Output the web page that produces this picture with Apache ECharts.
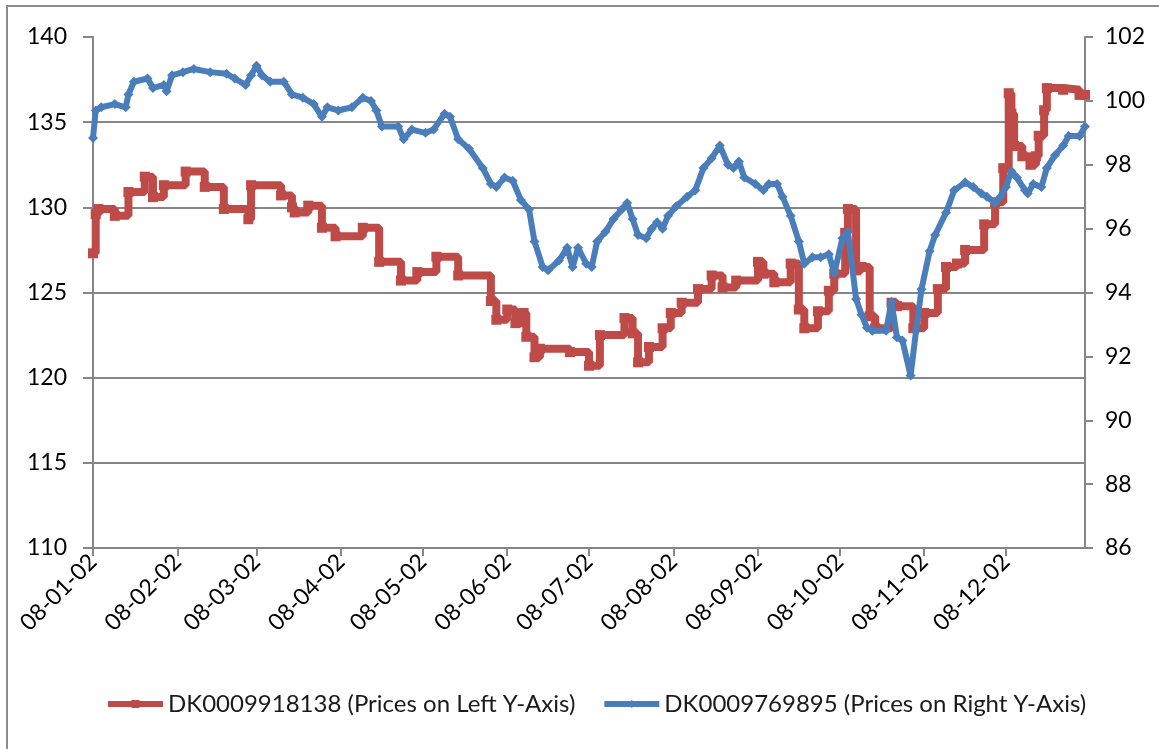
<!DOCTYPE html>
<html>
<head>
<meta charset="utf-8">
<title>DK0009918138 vs DK0009769895</title>
<script src="https://cdn.jsdelivr.net/npm/echarts@6/dist/echarts.min.js"></script>
<style>
  html, body { margin: 0; padding: 0; background: #fff; }
  #chart { width: 1159px; height: 749px; }
</style>
</head>
<body>
<div id="chart"></div>
<script>
  // 2008 prices; dates are yy-mm-dd
  const redDates = [
    '08-01-02', '08-01-03', '08-01-04', '08-01-10', '08-01-15', '08-01-21', '08-01-24', '08-01-28',
    '08-02-05', '08-02-12', '08-02-19', '08-02-28', '08-02-29', '08-03-11', '08-03-15', '08-03-16',
    '08-03-21', '08-03-26', '08-03-31', '08-04-10', '08-04-16', '08-04-24', '08-04-30', '08-05-07',
    '08-05-15', '08-05-27', '08-05-29', '08-06-02', '08-06-05', '08-06-08', '08-06-09', '08-06-12',
    '08-06-14', '08-06-25', '08-07-02', '08-07-06', '08-07-15', '08-07-18', '08-07-20', '08-07-24',
    '08-07-29', '08-08-01', '08-08-05', '08-08-11', '08-08-16', '08-08-20', '08-08-25', '08-09-02',
    '08-09-04', '08-09-08', '08-09-14', '08-09-17', '08-09-19', '08-09-24', '08-09-28', '08-09-30',
    '08-10-04', '08-10-05', '08-10-08', '08-10-10', '08-10-13', '08-10-15', '08-10-21', '08-10-23',
    '08-10-29', '08-11-02', '08-11-07', '08-11-10', '08-11-14', '08-11-17', '08-11-24', '08-11-28',
    '08-12-01', '08-12-03', '08-12-04', '08-12-05', '08-12-08', '08-12-11', '08-12-13', '08-12-14',
    '08-12-16', '08-12-17', '08-12-23', '08-12-29', '08-12-31'
  ];
  const redPrices = [
    127.3, 129.6, 129.9, 129.5, 130.9, 131.8, 130.6, 131.3,
    132.1, 131.2, 129.9, 129.3, 131.3, 130.7, 130.0, 129.7,
    130.1, 128.8, 128.3, 128.8, 126.8, 125.7, 126.2, 127.1,
    126.0, 124.5, 123.4, 124.0, 123.2, 123.8, 122.4, 121.2,
    121.7, 121.5, 120.7, 122.5, 123.5, 122.6, 120.9, 121.8,
    122.9, 123.8, 124.4, 125.2, 126.0, 125.3, 125.7, 126.8,
    126.1, 125.6, 126.7, 124.0, 122.9, 123.9, 125.1, 126.1,
    128.5, 129.9, 126.3, 126.5, 123.6, 122.9, 124.4, 124.2,
    122.9, 123.8, 125.2, 126.5, 126.7, 127.5, 129.0, 130.3,
    132.3, 136.7, 135.5, 133.6, 133.0, 132.5, 133.0, 134.2,
    135.7, 137.0, 136.9, 136.6, 136.6
  ];

  const blueDates = [
    '08-01-02', '08-01-03', '08-01-05', '08-01-10', '08-01-14', '08-01-15', '08-01-17', '08-01-22',
    '08-01-24', '08-01-28', '08-01-29', '08-01-31', '08-02-04', '08-02-08', '08-02-14', '08-02-20',
    '08-02-23', '08-02-27', '08-02-29', '08-03-02', '08-03-04', '08-03-07', '08-03-12', '08-03-15',
    '08-03-19', '08-03-23', '08-03-26', '08-03-28', '08-04-01', '08-04-06', '08-04-10', '08-04-13',
    '08-04-15', '08-04-17', '08-04-23', '08-04-25', '08-04-28', '08-05-03', '08-05-06', '08-05-10',
    '08-05-12', '08-05-15', '08-05-19', '08-05-24', '08-05-27', '08-05-29', '08-06-01', '08-06-04',
    '08-06-07', '08-06-10', '08-06-12', '08-06-15', '08-06-17', '08-06-21', '08-06-24', '08-06-26',
    '08-06-28', '08-07-01', '08-07-03', '08-07-05', '08-07-08', '08-07-11', '08-07-14', '08-07-16',
    '08-07-18', '08-07-20', '08-07-23', '08-07-25', '08-07-27', '08-07-29', '08-07-31', '08-08-03',
    '08-08-07', '08-08-10', '08-08-13', '08-08-16', '08-08-19', '08-08-22', '08-08-24', '08-08-26',
    '08-08-28', '08-09-01', '08-09-04', '08-09-06', '08-09-09', '08-09-11', '08-09-14', '08-09-17',
    '08-09-19', '08-09-22', '08-09-25', '08-09-28', '08-09-30', '08-10-03', '08-10-05', '08-10-08',
    '08-10-10', '08-10-12', '08-10-14', '08-10-19', '08-10-21', '08-10-23', '08-10-25', '08-10-28',
    '08-10-30', '08-11-01', '08-11-04', '08-11-06', '08-11-10', '08-11-13', '08-11-17', '08-11-20',
    '08-11-23', '08-11-25', '08-11-28', '08-11-30', '08-12-02', '08-12-04', '08-12-06', '08-12-09',
    '08-12-10', '08-12-12', '08-12-15', '08-12-17', '08-12-20', '08-12-23', '08-12-25', '08-12-29',
    '08-12-31'
  ];
  const bluePrices = [
    98.84, 99.7, 99.8, 99.9, 99.8, 100.2, 100.6, 100.7,
    100.4, 100.5, 100.3, 100.8, 100.9, 101.0, 100.9, 100.85,
    100.7, 100.5, 100.8, 101.1, 100.8, 100.6, 100.6, 100.2,
    100.1, 99.9, 99.5, 99.8, 99.7, 99.8, 100.1, 100.0,
    99.7, 99.2, 99.2, 98.8, 99.1, 99.0, 99.1, 99.6,
    99.5, 98.8, 98.5, 97.9, 97.4, 97.3, 97.6, 97.5,
    96.9, 96.6, 95.6, 94.8, 94.7, 95.0, 95.4, 94.8,
    95.4, 94.9, 94.8, 95.6, 95.9, 96.3, 96.6, 96.8,
    96.3, 95.8, 95.7, 96.0, 96.2, 96.0, 96.4, 96.7,
    97.0, 97.2, 97.9, 98.2, 98.6, 98.0, 97.9, 98.1,
    97.6, 97.4, 97.2, 97.4, 97.4, 97.0, 96.4, 95.6,
    94.9, 95.1, 95.1, 95.2, 94.6, 95.7, 95.9, 93.8,
    93.3, 92.9, 92.8, 92.8, 93.7, 92.6, 92.5, 91.4,
    92.8, 94.1, 95.3, 95.8, 96.5, 97.2, 97.45, 97.3,
    97.1, 97.0, 96.8, 97.0, 97.3, 97.8, 97.6, 97.2,
    97.1, 97.4, 97.3, 97.9, 98.3, 98.6, 98.9, 98.9,
    99.2
  ];

  const redName = 'DK0009918138 (Prices on Left Y-Axis)';
  const blueName = 'DK0009769895 (Prices on Right Y-Axis)';

  // every calendar day of the axis, 08-01-02 .. 08-12-31
  const days = [];
  for (let t = Date.UTC(2008, 0, 2); t <= Date.UTC(2008, 11, 31); t += 86400000) {
    const d = new Date(t);
    const p = (n) => String(n).padStart(2, '0');
    days.push(p(d.getUTCFullYear() % 100) + '-' + p(d.getUTCMonth() + 1) + '-' + p(d.getUTCDate()));
  }
  const isTick = (i, v) => v.slice(6) === '02';

  const font = 'Lato, "Open Sans", sans-serif';
  const axisGray = '#868686';

  const chart = echarts.init(document.getElementById('chart'), null, { renderer: 'canvas' });
  chart.setOption({
    animation: false,
    backgroundColor: '#fff',
    textStyle: { fontFamily: font },
    graphic: [{
      type: 'rect',
      shape: { x: 7, y: 6, width: 1200, height: 800 },
      style: { fill: 'none', stroke: '#8c8c8c', lineWidth: 2 },
      silent: true
    }],
    grid: { left: 93, right: 74, top: 37, bottom: 201 },
    legend: {
      bottom: 28,
      left: 100,
      itemWidth: 55,
      itemHeight: 10,
      itemGap: 26,
      lineStyle: { width: 6 },
      textStyle: { fontSize: 24, color: '#1a1a1a', fontFamily: font },
      data: [redName, blueName]
    },
    xAxis: {
      type: 'category',
      data: days,
      boundaryGap: false,
      axisLine: { lineStyle: { color: axisGray, width: 2 } },
      axisTick: { interval: isTick, length: 8, lineStyle: { color: axisGray, width: 2 } },
      axisLabel: {
        interval: isTick,
        rotate: 45,
        margin: 10,
        fontSize: 23,
        color: '#000',
        fontFamily: font
      },
      splitLine: { show: false }
    },
    yAxis: [{
      type: 'value',
      min: 110,
      max: 140,
      interval: 5,
      position: 'left',
      axisLine: { show: true, lineStyle: { color: axisGray, width: 2 } },
      axisTick: { show: true, inside: false, length: 10, lineStyle: { color: axisGray, width: 2 } },
      axisLabel: { fontSize: 23, color: '#000', margin: 26, fontFamily: font },
      splitLine: { show: true, showMaxLine: false, lineStyle: { color: axisGray, width: 2 } }
    }, {
      type: 'value',
      min: 86,
      max: 102,
      interval: 2,
      position: 'right',
      axisLine: { show: true, lineStyle: { color: axisGray, width: 2 } },
      axisTick: { show: true, inside: false, length: 8, lineStyle: { color: axisGray, width: 2 } },
      axisLabel: { fontSize: 23, color: '#000', margin: 20, fontFamily: font },
      splitLine: { show: false }
    }],
    series: [{
      name: redName,
      type: 'line',
      yAxisIndex: 0,
      step: 'end',
      data: redDates.map((d, i) => [d, redPrices[i]]),
      symbol: 'rect',
      symbolSize: 10,
      showSymbol: true,
      showAllSymbol: true,
      lineStyle: { color: '#BE4B48', width: 8 },
      itemStyle: { color: '#BE4B48' },
      z: 2
    }, {
      name: blueName,
      type: 'line',
      yAxisIndex: 1,
      data: blueDates.map((d, i) => [d, bluePrices[i]]),
      symbol: 'diamond',
      symbolSize: 10,
      showSymbol: true,
      showAllSymbol: true,
      lineStyle: { color: '#4A7EBB', width: 6 },
      itemStyle: { color: '#4A7EBB' },
      z: 3
    }]
  });
</script>
</body>
</html>
